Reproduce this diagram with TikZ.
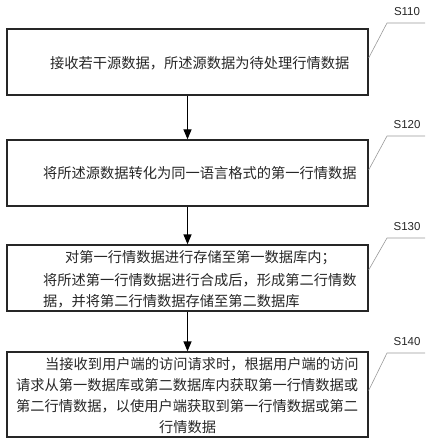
\documentclass[tikz,border=0pt]{standalone}
\usepackage{fontspec}
\setmainfont{Liberation Sans}
\newfontfamily\cjk{Noto Sans CJK SC}
\usetikzlibrary{arrows.meta}
\begin{document}
\begin{tikzpicture}[x=1pt,y=-1pt,
 box/.style={draw=black!85, line width=1.3pt, minimum width=361pt, inner sep=0pt},
 txt/.style={font=\cjk\fontsize{14.25pt}{21pt}\selectfont, inner sep=0pt, text=black!85, anchor=west},
 lab/.style={font=\fontsize{11.5pt}{13pt}\selectfont, inner sep=0pt, text=black!85},
 lead/.style={draw=black!40, line width=0.6pt},
 arr/.style={draw=black, line width=1.3pt, -{Triangle[length=10pt,width=8pt]}}]
\useasboundingbox (0,0) rectangle (430,443);
% boxes
\node[box, minimum height=66pt] (b1) at (187.5,62) {};
\node[box, minimum height=66pt] (b2) at (187.5,173) {};
\node[box, minimum height=66pt] (b3) at (187.5,278) {};
\node[box, minimum height=85pt] (b4) at (187.5,394.5) {};
% texts
\node[txt] (t1) at (50,63) {接收若干源数据，所述源数据为待处理行情数据};
\node[txt] (t2) at (43,173) {将所述源数据转化为同一语言格式的第一行情数据};
\node[txt] (t3a) at (65,258) {对第一行情数据进行存储至第一数据库内；};
\node[txt] (t3b) at (43,280) {将所述第一行情数据进行合成后，形成第二行情数};
\node[txt] (t3c) at (43,301) {据，并将第二行情数据存储至第二数据库};
\node[txt] (t4a) at (45,364) {当接收到用户端的访问请求时，根据用户端的访问};
\node[txt] (t4b) at (16,385) {请求从第一数据库或第二数据库内获取第一行情数据或};
\node[txt] (t4c) at (16,406) {第二行情数据，以使用户端获取到第一行情数据或第二};
\node[txt, anchor=center] (t4d) at (187.5,427) {行情数据};
% arrows
\draw[arr] (b1.south) -- (b2.north);
\draw[arr] (b2.south) -- (b3.north);
\draw[arr] (b3.south) -- (b4.north);
% labels
\node[lab] (s1) at (407,12) {S110};
\node[lab] (s2) at (407,125) {S120};
\node[lab] (s3) at (407,227) {S130};
\node[lab] (s4) at (407,342) {S140};
\coordinate (k1) at (387,23);  \coordinate (e1) at (425,23);
\coordinate (k2) at (387,136); \coordinate (e2) at (425,136);
\coordinate (k3) at (387,238); \coordinate (e3) at (425,238);
\coordinate (k4) at (387,353); \coordinate (e4) at (425,353);
\draw[lead] (e1) -- (k1) -- ([yshift=4pt]b1.east);
\draw[lead] (e2) -- (k2) -- ([yshift=3pt]b2.east);
\draw[lead] (e3) -- (k3) -- ([yshift=8pt]b3.east);
\draw[lead] (e4) -- (k4) -- ([yshift=4pt]b4.east);
\end{tikzpicture}
\end{document}
